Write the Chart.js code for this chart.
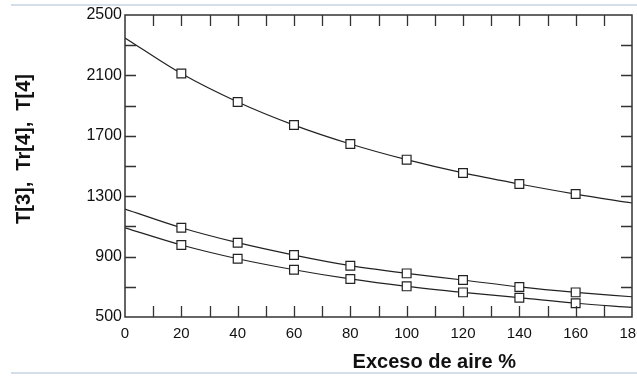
<!DOCTYPE html>
<html>
<head>
<meta charset="utf-8">
<script src="https://cdn.jsdelivr.net/npm/chart.js@4.4.0/dist/chart.umd.min.js"></script>
<style>
  html, body { margin: 0; padding: 0; background: #fff; overflow: hidden; }
  #wrap { width: 660px; height: 378px; }
</style>
</head>
<body>
<div id="wrap"><canvas id="tempChart" width="660" height="378"></canvas></div>
<script>
// excess air (%) and the three temperatures
const excess = [0, 20, 40, 60, 80, 100, 120, 140, 160, 180];
const tempT3 = [2348, 2112, 1924, 1771, 1646, 1542, 1454, 1381, 1314, 1255];
const tempTr4 = [1215, 1091, 992, 910, 840, 789, 745, 699, 663, 634];
const tempT4 = [1091, 977, 886, 813, 752, 703, 663, 628, 591, 564];

// y labels every 400, x labels every 20
const yLabels = [500, 900, 1300, 1700, 2100, 2500];
const xLabels = [0, 20, 40, 60, 80, 100, 120, 140, 160, 180];

const FONT = '"Liberation Sans", Arial, sans-serif';

function makeSet(label, values) {
    return {
        label: label,
        data: excess.map((x, i) => ({ x: x, y: values[i] })),
        borderColor: '#222',
        borderWidth: 1.2,
        cubicInterpolationMode: 'monotone',
        pointStyle: 'rect',
        // no marker at the ends of the curve
        pointRadius: excess.map(x => (x === 0 || x === 180) ? 0 : 6.2),
        pointBackgroundColor: '#fff',
        pointBorderColor: '#222',
        pointBorderWidth: 1.2,
        fill: false
    };
}

// frame with inward ticks on all four sides, plus axis titles
const framePlugin = {
    id: 'frame',
    afterDraw(chart) {
        const { ctx, chartArea: a, scales } = chart;
        const len = 11;
        ctx.save();
        ctx.strokeStyle = '#333';
        ctx.lineWidth = 1.5;
        ctx.strokeRect(a.left, a.top, a.right - a.left, a.bottom - a.top);
        ctx.lineWidth = 1.3;
        ctx.beginPath();
        scales.x.ticks.forEach(t => {
            if (t.value <= 0 || t.value >= 180) return;
            const px = Math.round(scales.x.getPixelForValue(t.value)) + 0.5;
            ctx.moveTo(px, a.bottom); ctx.lineTo(px, a.bottom - len);
            ctx.moveTo(px, a.top); ctx.lineTo(px, a.top + len);
        });
        scales.y.ticks.forEach(t => {
            if (t.value <= 500 || t.value >= 2500) return;
            const py = Math.round(scales.y.getPixelForValue(t.value)) + 0.5;
            ctx.moveTo(a.left, py); ctx.lineTo(a.left + len, py);
            ctx.moveTo(a.right, py); ctx.lineTo(a.right - len, py);
        });
        ctx.stroke();

        // thin rules above and below the figure
        ctx.strokeStyle = '#c6d2e4';
        ctx.lineWidth = 1.5;
        ctx.beginPath();
        ctx.moveTo(11, 5); ctx.lineTo(chart.width, 5);
        ctx.moveTo(11, 373); ctx.lineTo(chart.width, 373);
        ctx.stroke();

        ctx.fillStyle = '#111';
        ctx.font = 'bold 20px ' + FONT;
        ctx.textAlign = 'center';
        ctx.textBaseline = 'middle';
        ctx.fillText('Exceso de aire %', a.left + (a.right - a.left) * 0.61, 362);
        ctx.translate(24, 149);
        ctx.rotate(-Math.PI / 2);
        ctx.fillText('T[3],  Tr[4],  T[4]', 0, 0);
        ctx.restore();
    }
};

const ctx = document.getElementById('tempChart').getContext('2d');
const myChart = new Chart(ctx, {
    type: 'line',
    data: {
        datasets: [
            makeSet('T[3]', tempT3),
            makeSet('Tr[4]', tempTr4),
            makeSet('T[4]', tempT4)
        ]
    },
    options: {
        responsive: false,
        animation: false,
        layout: { padding: { left: 0, top: 15, right: 28, bottom: 0 } },
        plugins: {
            legend: { display: false },
            tooltip: { enabled: false }
        },
        scales: {
            x: {
                type: 'linear',
                min: 0,
                max: 180,
                grid: { display: false, drawTicks: false },
                border: { display: false },
                ticks: {
                    stepSize: 10,
                    autoSkip: false,
                    maxRotation: 0,
                    padding: 8,
                    color: '#111',
                    font: { family: FONT, size: 15 },
                    callback: v => xLabels.includes(v) ? String(v) : ''
                },
                afterFit: scale => { scale.height = 61; }
            },
            y: {
                min: 500,
                max: 2500,
                grid: { display: false, drawTicks: false },
                border: { display: false },
                ticks: {
                    stepSize: 200,
                    autoSkip: false,
                    padding: 3,
                    color: '#111',
                    font: { family: FONT, size: 16 },
                    callback: v => yLabels.includes(v) ? String(v) : ''
                },
                afterFit: scale => { scale.width = 125; }
            }
        }
    },
    plugins: [framePlugin]
});
</script>
</body>
</html>
